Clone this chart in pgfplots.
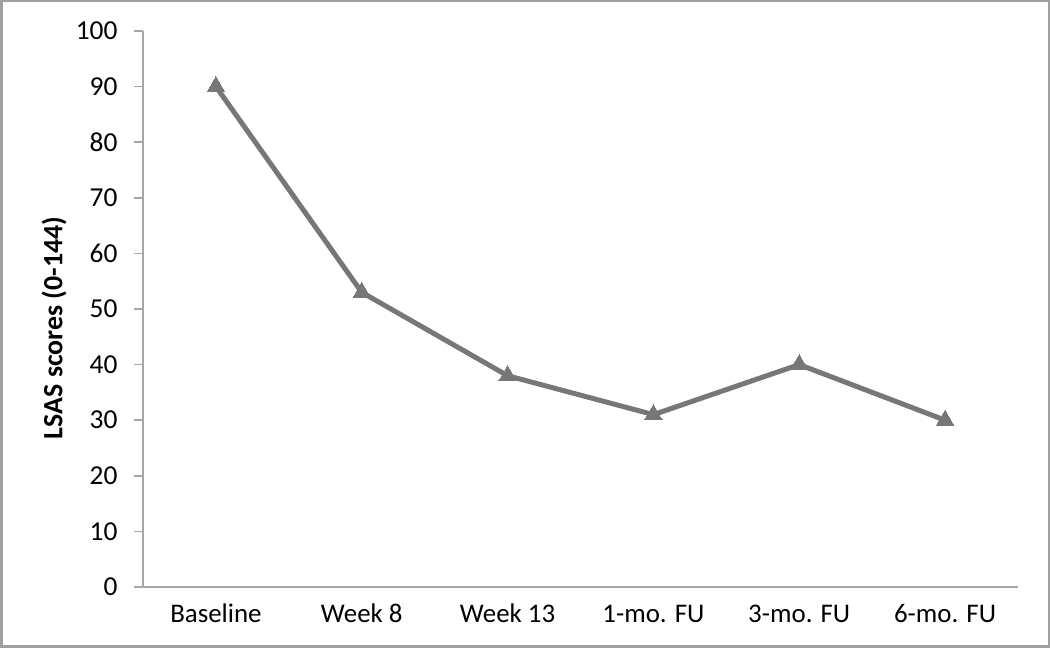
\documentclass[border=0pt]{standalone}
\usepackage{pgfplots}
\pgfplotsset{compat=1.18}
\usepackage{fontspec}
\setmainfont{Carlito}
\definecolor{linegray}{HTML}{777777}
\definecolor{axgray}{HTML}{A6A6A6}
\definecolor{framegray}{HTML}{A0A0A0}
\begin{document}
\begin{tikzpicture}[x=1bp,y=1bp]
\draw[framegray,line width=2.5bp] (1.25,1.25) rectangle (1048.75,646.75);
\begin{axis}[
  at={(143bp,61bp)}, anchor=south west,
  scale only axis, width=875bp, height=556bp,
  xmin=-0.5, xmax=5.5, ymin=0, ymax=100,
  axis x line=bottom, axis y line=left,
  axis line style={axgray, line width=1.5bp, -},
  xtick={0,1,2,3,4,5},
  xticklabels={Baseline, Week 8, Week 13, 1-mo. FU, 3-mo. FU, 6-mo. FU},
  ytick={0,10,...,100},
  major x tick style={draw=none},
  major y tick style={axgray, line width=1.5bp},
  tick align=outside, major tick length=9bp,
  yticklabel style={font=\fontsize{27.5}{32}\selectfont, xshift=-13bp},
  xticklabel style={font=\fontsize{27}{32}\selectfont, text height=0.7em, text depth=0.2em, yshift=-16bp},
  /pgf/number format/assume math mode=true,
  ylabel={\textbf{LSAS scores (0-144)}},
  every axis y label/.style={at={(axis description cs:-0.1017,0.466)}, rotate=90, anchor=center, font=\fontsize{28}{32}\selectfont},
  clip=false,
]
\addplot[linegray, line width=5bp, mark=triangle*, mark size=10bp, mark options={linegray, line width=0bp}]
  coordinates {(0,90) (1,53) (2,38) (3,31) (4,40) (5,30)};
\end{axis}
% extend x axis line left to meet zero tick
\draw[axgray, line width=1.5bp] (134,61) -- (143,61);
\end{tikzpicture}
\end{document}
